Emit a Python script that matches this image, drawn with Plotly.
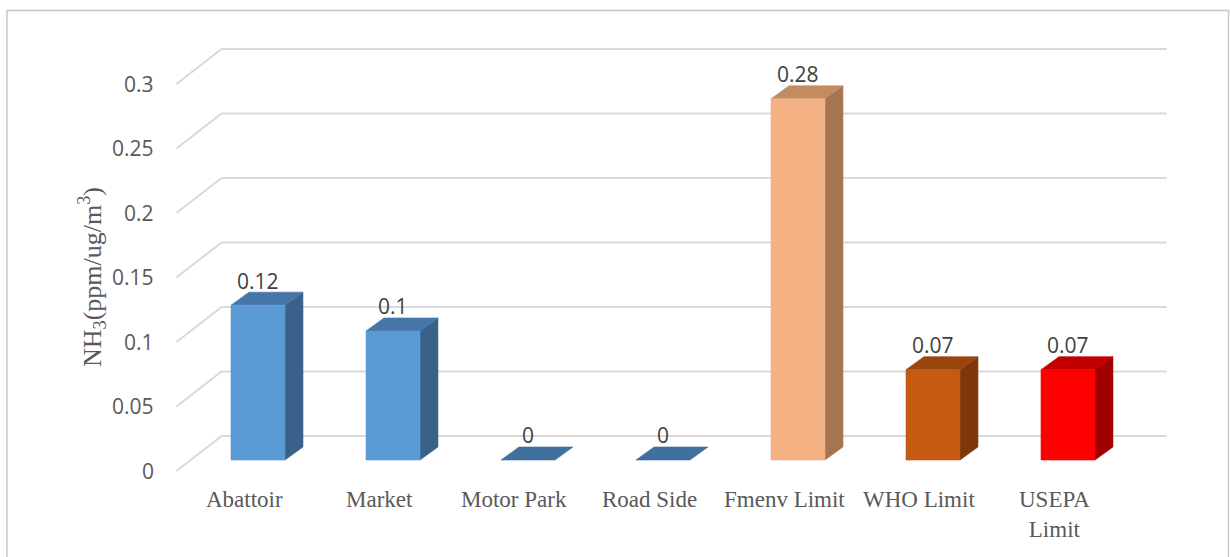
import plotly.graph_objects as go

# ---- data ----
categories = ["Abattoir", "Market", "Motor Park", "Road Side", "Fmenv Limit", "WHO Limit", "USEPA Limit"]
category_labels = ["Abattoir", "Market", "Motor Park", "Road Side", "Fmenv Limit", "WHO Limit", "USEPA<br>Limit"]
values = [0.12, 0.1, 0, 0, 0.28, 0.07, 0.07]
y_ticks = [0, 0.05, 0.1, 0.15, 0.2, 0.25, 0.3]
y_tick_labels = ["0", "0.05", "0.1", "0.15", "0.2", "0.25", "0.3"]

# face colours per bar: front, top, side
front_colors = ["#5B9BD5", "#5B9BD5", "#5B9BD5", "#5B9BD5", "#F4B183", "#C55A11", "#FF0000"]
top_colors = ["#4675A8", "#4675A8", "#41709F", "#41709F", "#C48A60", "#9A450D", "#C20000"]
side_colors = ["#396189", "#396189", "#396189", "#396189", "#A67450", "#7E370A", "#A00000"]

# ---- oblique projection (in data units of the bar front plane) ----
BAR_HALF = 0.2                      # half width of a bar front face (category units)
BAR_DX, BAR_DY = 0.133, 0.0101      # bar depth
WALL_DX, WALL_DY = 0.2296, 0.0186   # bar front plane -> back wall
FRONT_DX, FRONT_DY = -0.1037, -0.0085  # bar front plane -> front edge of floor
N = len(categories)
LEFT, RIGHT = -0.5, N - 0.5

GRID = "#D9D9D9"
TEXT = "#595959"

fig = go.Figure()

# back wall gridlines and left wall diagonals
gx, gy = [], []
for v in y_ticks:
    gx += [LEFT + WALL_DX, RIGHT + WALL_DX, None]
    gy += [v + WALL_DY, v + WALL_DY, None]
    gx += [LEFT + FRONT_DX, LEFT + WALL_DX, None]
    gy += [v + FRONT_DY, v + WALL_DY, None]
fig.add_trace(go.Scatter(x=gx, y=gy, mode="lines",
                         line=dict(color=GRID, width=2),
                         hoverinfo="skip", showlegend=False))


def face(xs, ys, color):
    fig.add_trace(go.Scatter(x=xs + [xs[0]], y=ys + [ys[0]], mode="lines",
                             fill="toself", fillcolor=color,
                             line=dict(color=color, width=0.6),
                             hoverinfo="skip", showlegend=False))


# 3-D bars: side, top and front faces
for i, v in enumerate(values):
    x0, x1 = i - BAR_HALF, i + BAR_HALF
    if v > 0:
        face([x1, x1 + BAR_DX, x1 + BAR_DX, x1], [0, BAR_DY, v + BAR_DY, v], side_colors[i])
    face([x0, x1, x1 + BAR_DX, x0 + BAR_DX], [v, v, v + BAR_DY, v + BAR_DY], top_colors[i])
    if v > 0:
        face([x0, x1, x1, x0], [0, 0, v, v], front_colors[i])

annotations = []

# value labels above each bar
for i, v in enumerate(values):
    annotations.append(dict(x=i, y=v + 0.019, xref="x", yref="y",
                            text=f"{v:g}", showarrow=False, yanchor="middle",
                            font=dict(family="Open Sans", size=21, color="#404040")))

# value axis labels along the front edge of the left wall
for v, lab in zip(y_ticks, y_tick_labels):
    annotations.append(dict(x=LEFT + FRONT_DX - 0.15, y=v + FRONT_DY, xref="x", yref="y",
                            text=lab, showarrow=False, xanchor="right", yanchor="middle",
                            font=dict(family="Open Sans", size=21, color=TEXT)))

# category labels along the front edge of the floor
for i, lab in enumerate(category_labels):
    annotations.append(dict(x=i + FRONT_DX, y=-0.0195, xref="x", yref="y",
                            text=lab, showarrow=False, xanchor="center", yanchor="top",
                            font=dict(family="Liberation Serif", size=23, color=TEXT)))

# value axis title
annotations.append(dict(x=92 / 1230, y=1 - 277 / 557, xref="paper", yref="paper",
                        text="NH<sub>3</sub>(ppm/ug/m<sup>3</sup>)", showarrow=False,
                        textangle=-90, xanchor="center", yanchor="middle",
                        font=dict(family="Liberation Serif", size=26, color=TEXT)))

fig.update_layout(
    width=1230, height=557,
    margin=dict(l=0, r=0, t=0, b=0),
    paper_bgcolor="white", plot_bgcolor="white",
    showlegend=False,
    xaxis=dict(range=[-258 / 135, (1230 - 258) / 135], visible=False, fixedrange=True),
    yaxis=dict(range=[(460 - 557) / 1290, 460 / 1290], visible=False, fixedrange=True),
    annotations=annotations,
    shapes=[dict(type="rect", xref="paper", yref="paper",
                 x0=7 / 1230, x1=1228.5 / 1230, y0=-0.1, y1=1 - 10.5 / 557,
                 line=dict(color="#C8C8C8", width=1.5))],
)

fig.write_html("out.html", config={"displayModeBar": False})
